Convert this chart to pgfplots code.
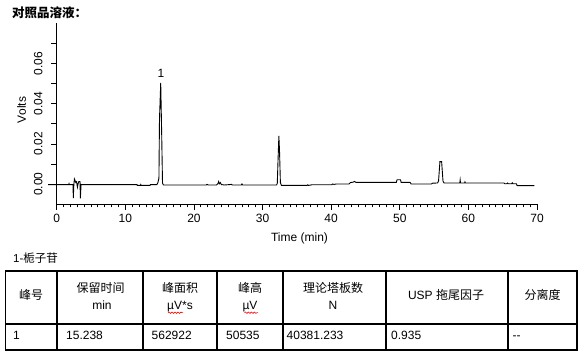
\documentclass[border=0pt]{standalone}
\usepackage{fontspec}
\setmainfont{Liberation Sans}
\newfontfamily\cjk{Noto Sans CJK SC}
\usepackage{pgfplots}
\pgfplotsset{compat=1.18}
\usetikzlibrary{decorations.pathmorphing}

\pgfplotstableread{
t v
-1.25 -0.0002
1.75 -0.0002
1.80 0.0003
1.85 -0.0002
2.38 -0.0002
2.42 -0.0069
2.50 -0.0002
2.58 0.0026
2.68 0.0018
2.78 0.0008
2.90 0.0012
3.02 -0.0015
3.12 0.0002
3.22 0.0013
3.40 0.0013
3.45 -0.0070
3.55 -0.0002
11.70 -0.0002
11.75 -0.0006
12.20 -0.0006
12.25 -0.0002
12.30 -0.0006
13.60 -0.0006
13.65 -0.0002
14.60 -0.0002
14.75 0.0008
14.90 0.0030
14.98 0.0323
15.16 0.0504
15.30 0.0250
15.42 0.0005
15.55 -0.0004
21.80 -0.0004
21.90 -0.0001
22.10 -0.0004
23.30 -0.0004
23.50 0.0003
23.60 0.0013
23.70 0.0002
23.85 0.0008
24.00 -0.0002
24.50 -0.0004
25.50 -0.0001
25.60 -0.0004
26.90 -0.0004
27.00 0.0001
27.10 -0.0004
32.05 -0.0004
32.15 0.0005
32.25 0.0112
32.38 0.0240
32.48 0.0159
32.60 0.0008
32.75 -0.0006
36.50 -0.0006
36.60 -0.0003
36.70 -0.0006
37.20 -0.0003
40.10 -0.0003
40.20 0.0001
40.40 -0.0001
40.80 0.0001
42.60 0.0001
42.80 0.0008
43.20 0.0010
43.40 0.0014
43.60 0.0009
49.50 0.0009
49.60 0.0022
50.10 0.0022
50.20 0.0009
51.50 0.0009
51.65 0.0001
54.60 0.0001
54.80 0.0005
55.50 0.0006
55.65 0.0015
55.75 0.0063
55.85 0.0112
56.10 0.0112
56.20 0.0063
56.30 0.0015
56.45 0.0006
58.75 0.0006
58.80 0.0021
58.85 0.0006
59.45 0.0006
59.50 0.0011
59.55 0.0006
65.20 0.0006
65.30 0.0002
65.60 0.0002
65.70 0.0006
65.80 0.0002
66.30 0.0002
66.40 0.0007
66.50 0.0002
67.00 0.0002
67.10 -0.0007
69.60 -0.0007
}\chrom

\begin{document}
\begin{tikzpicture}
\path[use as bounding box] (0,0) rectangle (585pt,358pt);
% title
\node[anchor=west, inner sep=0pt, font=\cjk\bfseries\fontsize{12.5}{14}\selectfont] at (12pt,345.5pt) {对照品溶液：};

\begin{axis}[
  at={(56.7pt,153.7pt)}, anchor=south west,
  scale only axis, width=480.3pt, height=181pt,
  xmin=0, xmax=70, ymin=-0.01, ymax=0.08,
  axis x line*=bottom, axis y line*=left,
  clip=false,
  scaled y ticks=false, scaled x ticks=false,
  xtick={0,10,20,30,40,50,60,70}, minor x tick num=9,
  ytick={0,0.01,0.02,0.03,0.04,0.05,0.06,0.07},
  yticklabels={0.00,,0.02,,0.04,,0.06,},
  tick align=outside, major tick length=5.5pt, minor tick length=3pt,
  tick style={black, line width=0.8pt},
  axis line style={black, line width=0.8pt},
  ticklabel style={font=\fontsize{12}{14}\selectfont},
  /pgf/number format/assume math mode=true,
  xticklabel style={anchor=north, inner sep=0pt, yshift=-4pt},
  yticklabel style={anchor=south, inner sep=0pt, xshift=-8.5pt, rotate=90},
  xlabel={Time (min)}, ylabel={Volts},
  label style={font=\fontsize{12}{14}\selectfont, inner sep=0pt},
  xlabel style={at={(axis description cs:0.5055,-0.188)}, anchor=center},
  ylabel style={at={(axis description cs:-0.0729,0.521)}, anchor=center},
]
\addplot[black, line width=0.9pt, sharp plot] table[x=t, y=v] {\chrom};
\node[font=\fontsize{12}{14}\selectfont, inner sep=0pt] at (axis cs:15.2,0.0551) {1};
\end{axis}

% table caption
\node[anchor=base west, inner sep=0pt, font=\fontsize{11.5}{13}\selectfont] at (13pt,95.3pt) {1-{\cjk 栀子苷}};

% table lines
\draw[line width=1.2pt] (5.7pt,87pt) rectangle (577pt,8pt);
\draw[line width=1.2pt] (5.7pt,34pt) -- (577pt,34pt);
\foreach \xx in {57,143,217,283,386,508} {
  \draw[line width=1.2pt] (\xx pt,87pt) -- (\xx pt,8pt);
}

\begin{scope}[every node/.style={inner sep=0pt, anchor=base, font=\fontsize{12}{14}\selectfont}]
% header
\node at (31pt,58.3pt) {\cjk 峰号};
\node at (100.5pt,65.8pt) {\cjk 保留时间};
\node at (102pt,48pt) {min};
\node at (180pt,65.8pt) {\cjk 峰面积};
\node at (180pt,48pt) {µV*s};
\node at (250pt,65.8pt) {\cjk 峰高};
\node at (250pt,48pt) {µV};
\node at (333pt,65.8pt) {\cjk 理论塔板数};
\node at (333pt,48pt) {N};
\node at (446pt,58.3pt) {USP {\cjk 拖尾因子}};
\node at (542.5pt,58.3pt) {\cjk 分离度};
\end{scope}
\begin{scope}[every node/.style={inner sep=0pt, anchor=base west, font=\fontsize{12}{14}\selectfont}]
\node at (13pt,18pt) {1};
\node at (66pt,18pt) {15.238};
\node at (151.5pt,18pt) {562922};
\node at (226pt,18pt) {50535};
\node at (286.5pt,18pt) {40381.233};
\node at (391pt,18pt) {0.935};
\node at (512.5pt,18pt) {-{}-};
\end{scope}

% spell-check underlines
\draw[red, line width=0.6pt, decorate, decoration={snake, amplitude=0.7pt, segment length=3pt}] (168pt,45.3pt) -- (183pt,45.3pt);
\draw[red, line width=0.6pt, decorate, decoration={snake, amplitude=0.7pt, segment length=3pt}] (244.5pt,45.3pt) -- (258pt,45.3pt);
\end{tikzpicture}
\end{document}
